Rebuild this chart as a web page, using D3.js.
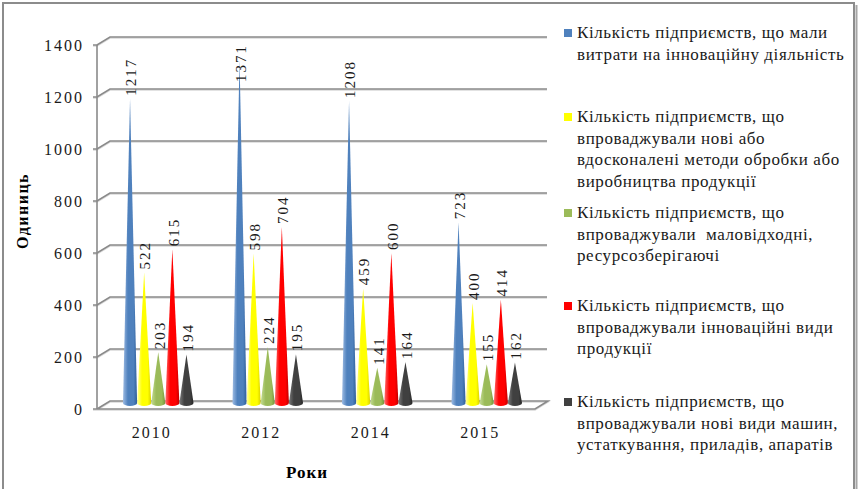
<!DOCTYPE html>
<html>
<head>
<meta charset="utf-8">
<script src="https://cdn.jsdelivr.net/npm/d3@7"></script>
<style>
  html, body { margin: 0; padding: 0; background: #fff; }
  svg { display: block; }
</style>
</head>
<body>
<svg id="chart" width="859" height="489"></svg>
<script>
// Innovation activity of enterprises, units per year
const years = ["2010", "2012", "2014", "2015"];
const seriesNames = [
  "Кількість підприємств, що мали витрати на інноваційну діяльність",
  "Кількість підприємств, що впроваджували нові або вдосконалені методи обробки або виробництва продукції",
  "Кількість підприємств, що впроваджували  маловідходні, ресурсозберігаючі",
  "Кількість підприємств, що впроваджували інноваційні види продукції",
  "Кількість підприємств, що впроваджували нові види машин, устаткування, приладів, апаратів"
];
const legendLines = [
  ["Кількість підприємств, що мали", "витрати на інноваційну діяльність"],
  ["Кількість підприємств, що", "впроваджували нові або", "вдосконалені методи обробки або", "виробництва продукції"],
  ["Кількість підприємств, що", "впроваджували  маловідходні,", "ресурсозберігаючі"],
  ["Кількість підприємств, що", "впроваджували інноваційні види", "продукції"],
  ["Кількість підприємств, що", "впроваджували нові види машин,", "устаткування, приладів, апаратів"]
];
const innovationCosts = [1217, 1371, 1208, 723];
const newMethods      = [522, 598, 459, 400];
const lowWaste        = [203, 224, 141, 155];
const newProducts     = [615, 704, 600, 414];
const newMachines     = [194, 195, 164, 162];
const yTicks = [0, 200, 400, 600, 800, 1000, 1200, 1400];
const seriesColors = ["#4f81bd", "#ffff00", "#9bbb59", "#ff0000", "#404040"];
const seriesLight  = ["#9dbbe3", "#ffffa0", "#c4dc94", "#ff7070", "#7a7a7a"];
const seriesDark   = ["#2f5f9a", "#d8d000", "#76933c", "#c00000", "#262626"];

const seriesValues = [innovationCosts, newMethods, lowWaste, newProducts, newMachines];

const svg = d3.select("#chart");
const defs = svg.append("defs");

// outer frame (bottom edge runs past the visible area)
svg.append("rect").attr("x", 3).attr("y", 3).attr("width", 851).attr("height", 492)
  .attr("fill", "#fff").attr("stroke", "#8c8c8c").attr("stroke-width", 2);
svg.append("line").attr("x1", 856.5).attr("x2", 856.5).attr("y1", 5).attr("y2", 489)
  .attr("stroke", "#a6a6a6").attr("stroke-width", 2);

// 3D plot geometry: front plane and back wall offset
const front = { left: 97, right: 535 };
const depth = { dx: 13, dy: -8 };
const yFront = d3.scaleLinear().domain([0, 1400]).range([409, 45]);
const yBack = v => yFront(v) + depth.dy;
// cones stand at half depth
const yCone = d3.scaleLinear().domain([0, 1400]).range([403, 53]);

const x0 = d3.scaleBand().domain(years).range([front.left, front.right])
  .paddingInner(0.356).paddingOuter(0.178);
const x1 = d3.scaleBand().domain(d3.range(seriesNames.length)).range([0, x0.bandwidth()]);

const digitFont = "'Liberation Serif', 'Times New Roman', serif";
const serif = "'Liberation Serif', 'Times New Roman', serif";

// back wall gridlines with side-wall diagonals
const grid = svg.append("g");
yTicks.forEach(v => {
  const yf = yFront(v), yb = yBack(v);
  const pts = v === 0
    ? [[front.left - 4, yf], [front.right, yf], [front.right + depth.dx, yb], [front.left + depth.dx, yb], [front.left, yf]]
    : [[front.left - 4, yf], [front.left, yf], [front.left + depth.dx, yb], [547, yb]];
  grid.append("path").attr("d", d3.line()(pts.map(p => [p[0], p[1] + 1])))
    .attr("fill", "none").attr("stroke", "#d9d9d9").attr("stroke-width", 1.5);
  grid.append("path").attr("d", d3.line()(pts))
    .attr("fill", "none").attr("stroke", "#8a8a8a").attr("stroke-width", 1.6);
});
// vertical axis line
grid.append("line").attr("x1", front.left).attr("x2", front.left)
  .attr("y1", yFront(1400)).attr("y2", yFront(0))
  .attr("stroke", "#8a8a8a").attr("stroke-width", 1.6);

// y tick labels
svg.append("g").selectAll("text").data(yTicks).join("text")
  .attr("x", 84).attr("y", d => yFront(d)).attr("dy", "0.35em")
  .attr("text-anchor", "end")
  .style("font-family", digitFont).style("font-size", "16px").style("letter-spacing", "2px")
  .attr("fill", "#1a1a1a")
  .text(d => d);

// category labels
svg.append("g").selectAll("text").data(years).join("text")
  .attr("x", d => x0(d) + x0.bandwidth() / 2).attr("y", 438)
  .attr("text-anchor", "middle")
  .style("font-family", digitFont).style("font-size", "16px").style("letter-spacing", "2px")
  .attr("fill", "#1a1a1a")
  .text(d => d);

// shading gradients for cones
seriesColors.forEach((c, i) => {
  const g = defs.append("linearGradient").attr("id", "cone" + i)
    .attr("x1", "0%").attr("x2", "100%").attr("y1", "0%").attr("y2", "0%");
  g.append("stop").attr("offset", "0%").attr("stop-color", seriesLight[i]);
  g.append("stop").attr("offset", "35%").attr("stop-color", c);
  g.append("stop").attr("offset", "75%").attr("stop-color", c);
  g.append("stop").attr("offset", "100%").attr("stop-color", seriesDark[i]);
});

const cells = [];
years.forEach((yr, yi) => {
  seriesValues.forEach((vals, si) => {
    cells.push({ year: yr, si, value: vals[yi] });
  });
});

// cones sit halfway into the depth of the plot
const coneX = d => x0(d.year) + x1(d.si) + x1.bandwidth() / 2 + depth.dx / 2;
const r = x1.bandwidth() / 2;
const ry = 3;

svg.append("g").selectAll("path").data(cells).join("path")
  .attr("d", d => {
    const cx = coneX(d), by = yCone(0), ty = yCone(d.value);
    return `M${cx - r},${by} L${cx},${ty} L${cx + r},${by} A${r},${ry} 0 0 1 ${cx - r},${by} Z`;
  })
  .attr("fill", d => `url(#cone${d.si})`);

// value labels, rotated, kept inside the plot top
svg.append("g").selectAll("text").data(cells).join("text")
  .attr("transform", d => {
    const len = 36;
    const base = Math.max(yCone(d.value) - 3, 46 + len);
    return `translate(${coneX(d) + 1},${base}) rotate(-90)`;
  })
  .attr("dy", "0.35em")
  .style("font-family", digitFont).style("font-size", "15px").style("letter-spacing", "2px")
  .attr("fill", "#1a1a1a")
  .text(d => d.value);

// axis titles
svg.append("text")
  .attr("transform", "translate(22,211) rotate(-90)")
  .attr("text-anchor", "middle").attr("dy", "0.35em")
  .style("font-family", serif).style("font-weight", "bold").style("font-size", "16px")
  .style("letter-spacing", "1.5px")
  .text("Одиниць");
svg.append("text").attr("x", 307).attr("y", 478).attr("text-anchor", "middle")
  .style("font-family", serif).style("font-weight", "bold").style("font-size", "17px")
  .style("letter-spacing", "1px")
  .text("Роки");

// legend
const legendTop = [33, 117, 213, 306, 402];
const lineH = 21.5;
const legend = svg.append("g");
legendLines.forEach((lines, i) => {
  const g = legend.append("g");
  g.append("rect").attr("x", 564).attr("y", legendTop[i] - 4).attr("width", 8).attr("height", 8)
    .attr("fill", seriesColors[i]);
  g.append("text")
    .style("font-family", serif).style("font-size", "17px").style("letter-spacing", "0.6px")
    .attr("fill", "#1a1a1a")
    .selectAll("tspan").data(lines).join("tspan")
    .attr("x", 577).attr("y", (d, j) => legendTop[i] + 5 + j * lineH)
    .style("white-space", "pre")
    .text(d => d);
});
</script>
</body>
</html>
